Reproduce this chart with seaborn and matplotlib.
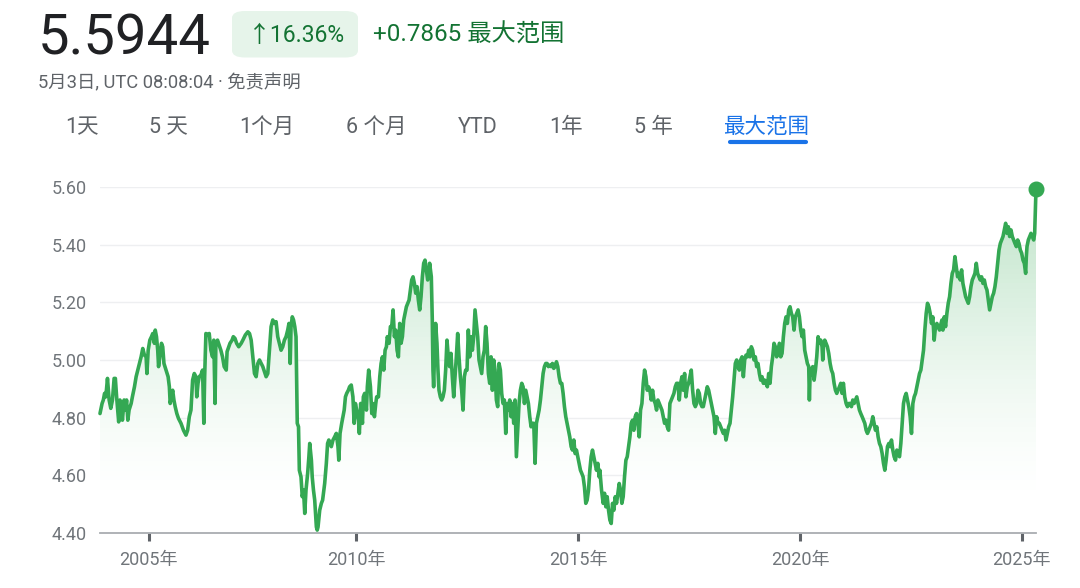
import numpy as np
import pandas as pd
import matplotlib
matplotlib.use("Agg")
import matplotlib.pyplot as plt
from matplotlib.patches import FancyBboxPatch
from matplotlib.lines import Line2D
import seaborn as sns

# ---------------- data ----------------
yrs_a = [2003.83, 2003.88, 2003.91, 2003.94, 2003.97, 2004.01, 2004.05, 2004.09, 2004.13, 2004.17,
         2004.20, 2004.23, 2004.28, 2004.31, 2004.34, 2004.37, 2004.41, 2004.44, 2004.47, 2004.50,
         2004.53, 2004.58, 2004.61, 2004.66, 2004.70, 2004.76, 2004.82, 2004.86, 2004.90, 2004.94,
         2004.96, 2004.99, 2005.03, 2005.07, 2005.10, 2005.14, 2005.16, 2005.19, 2005.22, 2005.24,
         2005.27, 2005.31, 2005.34, 2005.37, 2005.42, 2005.47, 2005.50, 2005.52, 2005.55, 2005.58,
         2005.61, 2005.64, 2005.68, 2005.72, 2005.78, 2005.84, 2005.90, 2005.94, 2005.98, 2006.02,
         2006.06, 2006.10, 2006.14, 2006.16, 2006.19, 2006.22, 2006.26, 2006.30, 2006.33, 2006.35,
         2006.38, 2006.42, 2006.46, 2006.50, 2006.54, 2006.57, 2006.60, 2006.62, 2006.66, 2006.70,
         2006.74, 2006.78, 2006.82, 2006.87, 2006.89, 2006.93, 2006.96, 2007.01, 2007.04, 2007.08,
         2007.12, 2007.17, 2007.23, 2007.27, 2007.33, 2007.39, 2007.43, 2007.47, 2007.51, 2007.55,
         2007.59, 2007.63]
val_a = [4.814, 4.849, 4.861, 4.884, 4.872, 4.936, 4.861, 4.832, 4.861, 4.936,
         4.936, 4.872, 4.785, 4.861, 4.849, 4.791, 4.861, 4.826, 4.861, 4.791,
         4.826, 4.849, 4.872, 4.907, 4.942, 4.977, 5.011, 5.040, 5.017, 5.011,
         4.953, 5.034, 5.069, 5.081, 5.092, 5.058, 5.104, 5.081, 5.034, 4.977,
         5.011, 5.058, 5.046, 4.988, 4.965, 4.942, 4.907, 4.849, 4.872, 4.895,
         4.861, 4.838, 4.814, 4.797, 4.780, 4.756, 4.739, 4.756, 4.803, 4.826,
         4.930, 4.953, 4.942, 4.872, 4.919, 4.942, 4.948, 4.965, 4.780, 4.942,
         5.092, 5.087, 5.092, 5.034, 5.011, 5.069, 4.849, 5.058, 5.069, 5.052,
         5.034, 5.011, 4.977, 4.965, 5.029, 5.046, 5.058, 5.069, 5.081, 5.075,
         5.058, 5.046, 5.058, 5.069, 5.087, 5.098, 5.092, 5.069, 5.011, 4.953,
         4.942, 4.988]

yrs_b = [2007.67, 2007.75, 2007.83, 2007.87, 2007.91, 2007.95, 2007.99, 2008.03, 2008.07, 2008.11,
         2008.15, 2008.19, 2008.23, 2008.27, 2008.31, 2008.35, 2008.38, 2008.41, 2008.43, 2008.46,
         2008.49, 2008.52, 2008.55, 2008.58, 2008.61, 2008.63, 2008.67, 2008.70, 2008.73, 2008.76,
         2008.79, 2008.83, 2008.86, 2008.88, 2008.92, 2008.94, 2008.97, 2009.00, 2009.04, 2009.06,
         2009.08, 2009.12, 2009.16, 2009.19, 2009.24, 2009.28, 2009.31, 2009.34, 2009.37, 2009.40,
         2009.44, 2009.48, 2009.52, 2009.56, 2009.58, 2009.61, 2009.65, 2009.68, 2009.71, 2009.74,
         2009.77, 2009.81, 2009.84, 2009.88, 2009.92, 2009.95, 2009.98, 2010.01, 2010.05, 2010.07,
         2010.10, 2010.14, 2010.16, 2010.19, 2010.23, 2010.25, 2010.28, 2010.32, 2010.35, 2010.37,
         2010.41, 2010.44, 2010.46, 2010.50, 2010.53, 2010.56, 2010.59, 2010.62, 2010.65, 2010.68,
         2010.70, 2010.74, 2010.77, 2010.80, 2010.83, 2010.86, 2010.89, 2010.92, 2010.95, 2010.98,
         2011.01, 2011.04, 2011.07, 2011.10, 2011.13, 2011.16, 2011.19, 2011.22, 2011.25, 2011.28,
         2011.31, 2011.34, 2011.37, 2011.40, 2011.43, 2011.46, 2011.49, 2011.52, 2011.55, 2011.58,
         2011.61, 2011.64]
val_b = [5.000, 4.977, 4.942, 4.953, 5.034, 5.116, 5.139, 5.127, 5.133, 5.081,
         5.058, 5.034, 5.046, 5.069, 5.081, 5.104, 5.127, 4.988, 5.116, 5.150,
         5.139, 5.116, 5.081, 4.780, 4.768, 4.617, 4.594, 4.525, 4.548, 4.467,
         4.548, 4.606, 4.664, 4.710, 4.652, 4.594, 4.548, 4.513, 4.420, 4.409,
         4.420, 4.478, 4.502, 4.513, 4.571, 4.641, 4.710, 4.722, 4.710, 4.699,
         4.722, 4.733, 4.745, 4.699, 4.652, 4.745, 4.780, 4.803, 4.826, 4.872,
         4.884, 4.895, 4.907, 4.913, 4.872, 4.780, 4.849, 4.826, 4.791, 4.745,
         4.849, 4.780, 4.872, 4.884, 4.826, 4.907, 4.965, 4.907, 4.814, 4.849,
         4.803, 4.849, 4.872, 4.872, 4.942, 4.988, 5.011, 4.965, 5.034, 5.046,
         5.081, 5.058, 5.116, 5.116, 5.174, 5.081, 5.104, 5.034, 5.011, 5.127,
         5.058, 5.081, 5.139, 5.162, 5.185, 5.197, 5.208, 5.243, 5.278, 5.289,
         5.266, 5.232, 5.255, 5.208, 5.174, 5.220, 5.289, 5.336, 5.347, 5.313,
         5.278, 5.301]

yrs_c = [2011.654, 2011.692, 2011.714, 2011.729, 2011.744, 2011.767, 2011.789, 2011.819, 2011.842, 2011.865,
         2011.895, 2011.925, 2011.955, 2011.985, 2012.015, 2012.045, 2012.075, 2012.105, 2012.135, 2012.165,
         2012.196, 2012.226, 2012.256, 2012.286, 2012.316, 2012.346, 2012.376, 2012.406, 2012.436, 2012.466,
         2012.496, 2012.526, 2012.556, 2012.586, 2012.617, 2012.647, 2012.677, 2012.707, 2012.737, 2012.767,
         2012.797, 2012.827, 2012.857, 2012.887, 2012.917, 2012.947, 2012.978, 2013.008, 2013.038, 2013.068,
         2013.098, 2013.128, 2013.158, 2013.188, 2013.218, 2013.248, 2013.278, 2013.308, 2013.338, 2013.369,
         2013.399, 2013.429, 2013.459, 2013.489, 2013.519, 2013.549, 2013.579, 2013.609, 2013.639, 2013.669,
         2013.699, 2013.730, 2013.760, 2013.790, 2013.820, 2013.850, 2013.880, 2013.910, 2013.940, 2013.970,
         2014.000, 2014.030, 2014.060, 2014.090, 2014.121, 2014.151, 2014.181, 2014.211, 2014.241, 2014.271,
         2014.301, 2014.331, 2014.361, 2014.391, 2014.421, 2014.451, 2014.482, 2014.512, 2014.542, 2014.572,
         2014.602, 2014.632, 2014.662, 2014.692, 2014.722, 2014.752, 2014.782, 2014.812, 2014.843, 2014.873,
         2014.903, 2014.933, 2014.963, 2014.993, 2015.023, 2015.053, 2015.083, 2015.113, 2015.143, 2015.173,
         2015.203, 2015.234, 2015.264, 2015.294, 2015.324, 2015.354, 2015.384, 2015.414, 2015.444, 2015.474]
val_c = [5.336, 5.289, 5.139, 4.965, 4.907, 5.034, 5.127, 5.058, 4.965, 4.895,
         4.872, 4.861, 4.872, 4.895, 4.965, 5.069, 5.011, 4.977, 5.023, 4.942,
         4.872, 4.942, 5.011, 5.092, 5.011, 4.942, 4.895, 4.826, 4.942, 4.965,
         4.965, 5.104, 5.011, 5.081, 5.034, 5.081, 5.174, 5.127, 5.081, 5.000,
         4.977, 4.953, 5.011, 5.034, 5.116, 5.058, 4.953, 4.919, 5.011, 4.895,
         5.000, 4.965, 4.861, 4.838, 4.988, 4.965, 4.884, 4.849, 4.861, 4.745,
         4.849, 4.826, 4.861, 4.803, 4.849, 4.780, 4.861, 4.664, 4.756, 4.849,
         4.895, 4.919, 4.907, 4.849, 4.895, 4.872, 4.849, 4.803, 4.768, 4.780,
         4.780, 4.641, 4.780, 4.803, 4.826, 4.861, 4.907, 4.953, 4.977, 4.988,
         4.988, 4.977, 4.982, 4.977, 4.988, 4.971, 4.977, 4.994, 4.977, 4.942,
         4.919, 4.919, 4.884, 4.838, 4.803, 4.780, 4.756, 4.733, 4.699, 4.687,
         4.722, 4.675, 4.687, 4.664, 4.641, 4.617, 4.606, 4.594, 4.559, 4.502,
         4.513, 4.548, 4.617, 4.664, 4.687, 4.664, 4.641, 4.617, 4.641, 4.594]

yrs_d = [2015.490, 2015.528, 2015.565, 2015.595, 2015.625, 2015.655, 2015.686, 2015.716, 2015.746, 2015.776,
         2015.806, 2015.836, 2015.866, 2015.896, 2015.926, 2015.956, 2015.986, 2016.016, 2016.046, 2016.077,
         2016.107, 2016.137, 2016.167, 2016.197, 2016.227, 2016.257, 2016.287, 2016.317, 2016.347, 2016.377,
         2016.407, 2016.438, 2016.468, 2016.498, 2016.528, 2016.558, 2016.588, 2016.618, 2016.648, 2016.678,
         2016.708, 2016.738, 2016.768, 2016.798, 2016.829, 2016.859, 2016.889, 2016.919, 2016.949, 2016.979,
         2017.009, 2017.039, 2017.069, 2017.099, 2017.129, 2017.159, 2017.190, 2017.220, 2017.250, 2017.280,
         2017.310, 2017.340, 2017.370, 2017.400, 2017.430, 2017.460, 2017.490, 2017.520, 2017.550, 2017.581,
         2017.611, 2017.641, 2017.671, 2017.701, 2017.731, 2017.761, 2017.791, 2017.821, 2017.851, 2017.881,
         2017.911, 2017.942, 2017.972, 2018.002, 2018.032, 2018.062, 2018.092, 2018.122, 2018.152, 2018.182,
         2018.212, 2018.242, 2018.272, 2018.302, 2018.333, 2018.363, 2018.393, 2018.423, 2018.453, 2018.483,
         2018.513, 2018.543, 2018.573, 2018.603, 2018.633, 2018.663, 2018.694, 2018.724, 2018.754, 2018.784,
         2018.814, 2018.844, 2018.874, 2018.904, 2018.934, 2018.964, 2018.994, 2019.024, 2019.054, 2019.085,
         2019.115, 2019.145, 2019.175, 2019.205, 2019.235, 2019.265, 2019.295]
val_d = [4.617, 4.548, 4.502, 4.537, 4.490, 4.525, 4.478, 4.444, 4.432, 4.502,
         4.478, 4.525, 4.502, 4.537, 4.571, 4.548, 4.502, 4.525, 4.594, 4.652,
         4.664, 4.699, 4.733, 4.780, 4.791, 4.756, 4.803, 4.814, 4.780, 4.733,
         4.826, 4.849, 4.919, 4.965, 4.942, 4.895, 4.907, 4.895, 4.861, 4.895,
         4.861, 4.849, 4.826, 4.861, 4.849, 4.838, 4.826, 4.803, 4.780, 4.791,
         4.768, 4.756, 4.849, 4.861, 4.872, 4.884, 4.907, 4.919, 4.919, 4.861,
         4.919, 4.942, 4.895, 4.953, 4.872, 4.907, 4.919, 4.942, 4.965, 4.895,
         4.849, 4.838, 4.849, 4.895, 4.884, 4.849, 4.838, 4.838, 4.861, 4.884,
         4.907, 4.895, 4.872, 4.849, 4.826, 4.803, 4.745, 4.803, 4.780, 4.780,
         4.768, 4.756, 4.745, 4.756, 4.722, 4.745, 4.768, 4.780, 4.826, 4.872,
         4.930, 4.988, 5.000, 4.977, 4.965, 5.000, 5.011, 4.942, 5.000, 5.017,
         5.011, 5.034, 5.011, 5.046, 5.034, 5.000, 5.011, 4.977, 4.988, 4.953,
         4.930, 4.942, 4.919, 4.930, 4.919, 4.907, 4.953]

yrs_e = [2019.325, 2019.355, 2019.385, 2019.415, 2019.445, 2019.475, 2019.505, 2019.536, 2019.566, 2019.596,
         2019.626, 2019.656, 2019.686, 2019.716, 2019.746, 2019.776, 2019.806, 2019.836, 2019.866, 2019.896,
         2019.927, 2019.957, 2019.987, 2020.017, 2020.047, 2020.077, 2020.107, 2020.137, 2020.167, 2020.197,
         2020.212, 2020.227, 2020.257, 2020.288, 2020.318, 2020.348, 2020.378, 2020.408, 2020.438, 2020.468,
         2020.498, 2020.513, 2020.528, 2020.558, 2020.588, 2020.618, 2020.648, 2020.679, 2020.709, 2020.739,
         2020.769, 2020.799, 2020.829, 2020.859, 2020.889, 2020.919, 2020.949, 2020.979, 2021.009, 2021.040,
         2021.070, 2021.100, 2021.130, 2021.160, 2021.190, 2021.220, 2021.250, 2021.280, 2021.310, 2021.340,
         2021.370, 2021.401, 2021.431, 2021.461, 2021.491, 2021.521, 2021.551, 2021.581, 2021.611, 2021.641,
         2021.671, 2021.701, 2021.731, 2021.761, 2021.792, 2021.822, 2021.852, 2021.882, 2021.912, 2021.942,
         2021.972, 2022.002, 2022.032, 2022.062, 2022.092, 2022.122, 2022.153, 2022.183, 2022.213, 2022.243,
         2022.273, 2022.303, 2022.333, 2022.363, 2022.393, 2022.423, 2022.453, 2022.483, 2022.513, 2022.544,
         2022.574, 2022.604, 2022.634, 2022.664, 2022.694, 2022.724, 2022.754, 2022.784, 2022.814, 2022.844,
         2022.874, 2022.904, 2022.934, 2022.964, 2022.994, 2023.024, 2023.054, 2023.085, 2023.115, 2023.145]
val_e = [4.919, 4.977, 5.011, 5.058, 5.046, 5.011, 5.034, 5.058, 5.011, 5.023,
         5.081, 5.127, 5.150, 5.127, 5.174, 5.185, 5.162, 5.150, 5.104, 5.150,
         5.162, 5.174, 5.150, 5.104, 5.081, 5.104, 5.034, 5.011, 4.988, 4.977,
         4.861, 4.942, 4.965, 4.977, 4.930, 4.965, 5.011, 5.081, 5.058, 5.069,
         5.046, 5.000, 5.046, 5.069, 5.058, 5.046, 5.023, 4.988, 4.965, 4.953,
         4.919, 4.895, 4.884, 4.895, 4.907, 4.919, 4.884, 4.919, 4.872, 4.849,
         4.838, 4.849, 4.849, 4.838, 4.861, 4.849, 4.861, 4.872, 4.849, 4.826,
         4.814, 4.803, 4.791, 4.780, 4.756, 4.745, 4.756, 4.768, 4.780, 4.803,
         4.780, 4.756, 4.768, 4.733, 4.710, 4.699, 4.675, 4.641, 4.617, 4.652,
         4.699, 4.710, 4.699, 4.722, 4.687, 4.664, 4.652, 4.687, 4.675, 4.664,
         4.710, 4.780, 4.849, 4.872, 4.884, 4.861, 4.838, 4.803, 4.745, 4.849,
         4.872, 4.884, 4.907, 4.930, 4.953, 4.965, 5.000, 5.034, 5.104, 5.162,
         5.197, 5.185, 5.162, 5.127, 5.150, 5.069, 5.116, 5.127, 5.116, 5.104]

yrs_f = [2023.161, 2023.199, 2023.221, 2023.251, 2023.281, 2023.311, 2023.341, 2023.372, 2023.402, 2023.432,
         2023.462, 2023.492, 2023.522, 2023.552, 2023.582, 2023.612, 2023.642, 2023.672, 2023.702, 2023.733,
         2023.763, 2023.793, 2023.823, 2023.853, 2023.883, 2023.913, 2023.943, 2023.973, 2024.003, 2024.033,
         2024.063, 2024.093, 2024.124, 2024.154, 2024.184, 2024.214, 2024.244, 2024.274, 2024.304, 2024.334,
         2024.364, 2024.394, 2024.424, 2024.454, 2024.485, 2024.515, 2024.545, 2024.575, 2024.605, 2024.635,
         2024.665, 2024.695, 2024.725, 2024.755, 2024.785, 2024.815, 2024.845, 2024.876, 2024.906, 2024.936,
         2024.966, 2024.996, 2025.026, 2025.056, 2025.086, 2025.101, 2025.116, 2025.146, 2025.176, 2025.206,
         2025.236, 2025.267, 2025.289, 2025.319]
val_f = [5.116, 5.139, 5.104, 5.150, 5.116, 5.162, 5.197, 5.220, 5.266, 5.301,
         5.313, 5.359, 5.324, 5.289, 5.301, 5.278, 5.313, 5.266, 5.243, 5.220,
         5.208, 5.197, 5.220, 5.255, 5.278, 5.289, 5.301, 5.336, 5.301, 5.289,
         5.278, 5.289, 5.266, 5.278, 5.255, 5.243, 5.208, 5.174, 5.197, 5.220,
         5.232, 5.255, 5.289, 5.336, 5.382, 5.405, 5.417, 5.429, 5.452, 5.475,
         5.440, 5.463, 5.429, 5.452, 5.429, 5.417, 5.405, 5.394, 5.417, 5.405,
         5.382, 5.371, 5.347, 5.336, 5.301, 5.359, 5.394, 5.417, 5.429, 5.440,
         5.429, 5.417, 5.440, 5.5944]

year_ticks = [2005, 2010, 2015, 2020, 2025]
year_labels = [f"{y}年" for y in year_ticks]
value_ticks = [4.40, 4.60, 4.80, 5.00, 5.20, 5.40, 5.60]

headline_value = "5.5944"
headline_pct = "↑16.36%"
headline_change = "+0.7865 最大范围"
subtitle = "5月3日, UTC 08:08:04 · 免责声明"
tabs = ["1天", "5 天", "1个月", "6 个月", "YTD", "1年", "5 年", "最大范围"]
active_tab = "最大范围"

# ---------------- style ----------------
sns.set_theme(style="white")
plt.rcParams["font.family"] = ["Roboto", "Noto Sans CJK SC", "DejaVu Sans"]

GREEN = "#34a853"
DARK_GREEN = "#137333"
GREY = "#5f6368"
LIGHT_GREY = "#70757a"
BLUE = "#1a73e8"

W, H = 1080, 588
fig = plt.figure(figsize=(W / 100, H / 100), dpi=100)
fig.patch.set_facecolor("white")


def fx(x):
    return x / W


def fy(y):
    return 1 - y / H


ax_left, ax_right, ax_top, ax_bottom = 100, 1036, 187.3, 532.7
ax = fig.add_axes([fx(ax_left), fy(ax_bottom), (ax_right - ax_left) / W, (ax_bottom - ax_top) / H])

# early years are drawn slightly compressed on the reference's time axis
COMP = 41.48 / 44.32


def fwd(y):
    y = np.asarray(y, dtype=float)
    return np.where(y < 2010, 2010 - (2010 - y) * COMP, y)


def inv(p):
    p = np.asarray(p, dtype=float)
    return np.where(p < 2010, 2010 - (2010 - p) / COMP, p)


ax.set_xscale("function", functions=(fwd, inv))

years = np.array(yrs_a + yrs_b + yrs_c + yrs_d + yrs_e + yrs_f)
rates = np.array(val_a + val_b + val_c + val_d + val_e + val_f)
df = pd.DataFrame({"year": years, "rate": rates})

# gradient area under the line (banded, opaque colours)
green_rgb = np.array(matplotlib.colors.to_rgb(GREEN))
levels = np.linspace(4.40, 5.60, 73)
for y0, y1 in zip(levels[:-1], levels[1:]):
    mid = 0.5 * (y0 + y1)
    a = 0.21 * max(0.0, (mid - 4.52) / 0.78) ** 1.4
    a = min(a, 0.27)
    col = 1 - a * (1 - green_rgb)
    top = np.minimum(rates, y1)
    ax.fill_between(years, y0, top, where=rates > y0, interpolate=True,
                    color=col, lw=0, antialiased=False, zorder=1)

sns.lineplot(data=df, x="year", y="rate", ax=ax, color=GREEN, lw=2.6,
             estimator=None, sort=False, zorder=3)
for ln in ax.lines:
    ln.set_clip_on(False)
    ln.set_solid_joinstyle("round")
ax.plot(years[-1:], rates[-1:], "o", ms=10.5, color=GREEN, clip_on=False, zorder=4)

ax.set_xlim(years[0], years[-1])
ax.set_ylim(4.40, 5.60)
ax.set_xlabel("")
ax.set_ylabel("")
ax.set_yticks(value_ticks)
ax.set_yticklabels([f"{v:.2f}" for v in value_ticks])
ax.set_xticks(year_ticks)
ax.set_xticklabels(year_labels)
ax.xaxis.set_minor_locator(matplotlib.ticker.NullLocator())
ax.grid(axis="y", color="#eeeff1", lw=1.0)
ax.grid(axis="x", visible=False)
for s in ["left", "right", "top"]:
    ax.spines[s].set_visible(False)
ax.spines["bottom"].set_color("#a9adb1")
ax.spines["bottom"].set_linewidth(1.3)
ax.tick_params(axis="y", left=False, length=0, pad=9.5, labelsize=13, labelcolor=LIGHT_GREY)
ax.tick_params(axis="x", bottom=True, length=6, width=2.2, color=GREY, direction="out", pad=7,
               labelsize=13, labelcolor=LIGHT_GREY)
ax.set_facecolor("white")

# ---------------- header ----------------
fig.text(fx(38), fy(54.5), headline_value, fontsize=40.5, color="#202124", va="baseline", ha="left")

pill = FancyBboxPatch((fx(232), fy(57.5)), (358 - 232) / W, (57.5 - 11) / H,
                      boxstyle="round,pad=0,rounding_size=0.012",
                      transform=fig.transFigure, facecolor="#e6f4ea", edgecolor="none")
fig.patches.append(pill)
fig.text(fx(296), fy(41.5), headline_pct, fontsize=16.5, color=DARK_GREEN, va="baseline", ha="center")
fig.text(fx(373), fy(41.5), headline_change, fontsize=17.5, color=DARK_GREEN, va="baseline", ha="left")
fig.text(fx(38), fy(88.5), subtitle, fontsize=13.2, color=GREY, va="baseline", ha="left")

tab_x = [82, 168, 267, 376, 478, 566, 653, 766]
for t, x in zip(tabs, tab_x):
    c = BLUE if t == active_tab else GREY
    fig.text(fx(x), fy(133), t, fontsize=15.5, color=c, va="baseline", ha="center")
fig.lines.append(Line2D([fx(730), fx(806)], [fy(141.5), fy(141.5)], transform=fig.transFigure,
                        color=BLUE, lw=3, solid_capstyle="round"))

fig.savefig("out.png", dpi=100, facecolor="white")
